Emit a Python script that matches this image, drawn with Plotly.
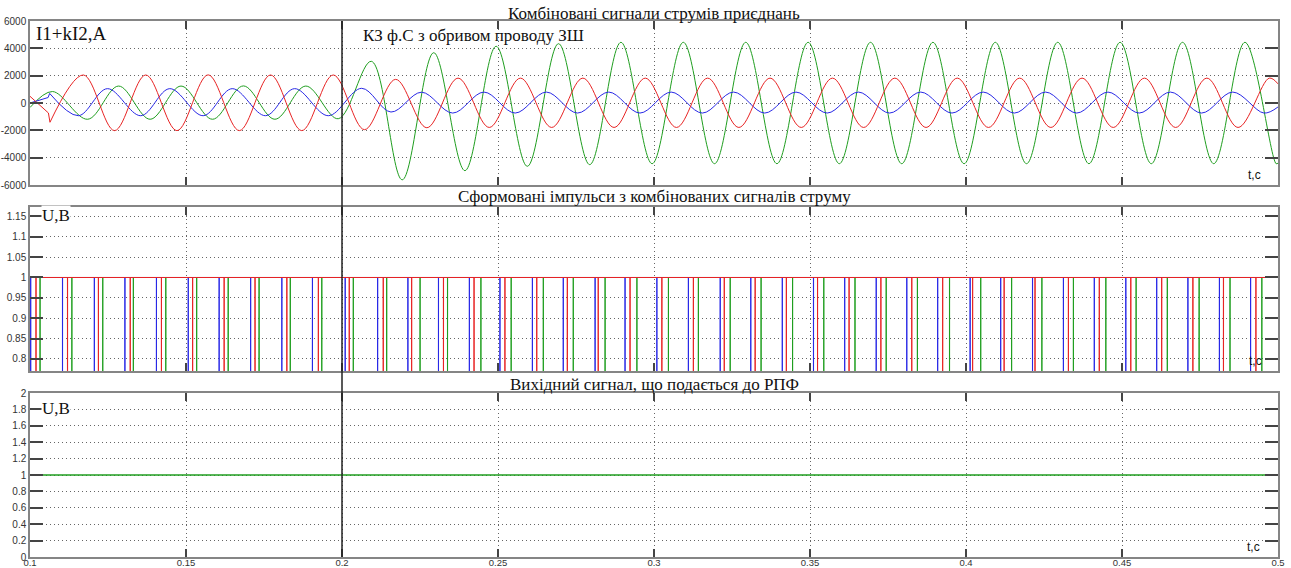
import plotly.graph_objects as go

# ---------------- data ----------------
T_START, T_END = 0.1, 0.5

# Panel 1: combined current signals (extrema of each waveform, A)
red_pre_t = [0.1000, 0.1059, 0.1064]
red_pre_v = [490, -730, -1410]
red_t = [0.1064, 0.1171, 0.1271, 0.1371, 0.1471, 0.1571, 0.1671, 0.1771, 0.1871, 0.1972,
         0.2072, 0.2172, 0.2272, 0.2372, 0.2472, 0.2572, 0.2672, 0.2772, 0.2872, 0.2972,
         0.3072, 0.3172, 0.3272, 0.3372, 0.3472, 0.3572, 0.3672, 0.3772, 0.3872, 0.3972,
         0.4072, 0.4172, 0.4272, 0.4372, 0.4472, 0.4572, 0.4672, 0.4772, 0.4872, 0.4972, 0.5000]
red_v = [-1410, 2050, -2020, 2050, -2020, 2060, -2020, 2050, -2020, 2050,
         -1950, 1730, -1810, 1820, -1790, 1820, -1790, 1820, -1790, 1820,
         -1790, 1820, -1790, 1820, -1790, 1820, -1790, 1820, -1790, 1820,
         -1790, 1820, -1790, 1820, -1790, 1820, -1790, 1820, -1790, 1820, 1400]

green_t = [0.1000, 0.1072, 0.1185, 0.1284, 0.1385, 0.1484, 0.1585, 0.1684, 0.1785, 0.1884, 0.1988,
           0.2094, 0.2193, 0.2294, 0.2394, 0.2494, 0.2594, 0.2694, 0.2794, 0.2894, 0.2994,
           0.3094, 0.3194, 0.3294, 0.3394, 0.3494, 0.3594, 0.3694, 0.3794, 0.3894, 0.3994,
           0.4094, 0.4194, 0.4294, 0.4394, 0.4494, 0.4594, 0.4694, 0.4794, 0.4894, 0.4994, 0.5000]
green_v = [-330, 840, -1190, 1240, -1190, 1240, -1190, 1250, -1190, 1240, -1150,
           3050, -5620, 3680, -4950, 4150, -4630, 4340, -4510, 4440, -4440,
           4440, -4440, 4440, -4440, 4440, -4440, 4440, -4440, 4440, -4440,
           4440, -4440, 4440, -4440, 4440, -4440, 4440, -4440, 4440, -4440, -4400]

blue_pre_t = [0.1000, 0.1058, 0.1063]
blue_pre_v = [0, 400, 700]
blue_t = [0.1063, 0.1155, 0.1248, 0.1355, 0.1448, 0.1555, 0.1648, 0.1755, 0.1848, 0.1956,
          0.2063, 0.2157, 0.2255, 0.2355, 0.2455, 0.2555, 0.2655, 0.2755, 0.2855, 0.2955,
          0.3055, 0.3155, 0.3255, 0.3355, 0.3455, 0.3555, 0.3655, 0.3755, 0.3855, 0.3955,
          0.4055, 0.4155, 0.4255, 0.4355, 0.4455, 0.4555, 0.4655, 0.4755, 0.4855, 0.4955, 0.5000]
blue_v = [700, -930, 1050, -930, 1050, -930, 1050, -930, 1050, -930,
          1075, -660, 790, -735, 800, -735, 800, -735, 800, -735,
          800, -735, 800, -735, 800, -735, 800, -735, 800, -735,
          800, -735, 800, -735, 800, -735, 800, -735, 800, -735, -290]

# Panel 2: pulse instants (s) of each phase, level 1 with short drops to 0
blue_pulses = [0.1002, 0.1104, 0.1206, 0.1304, 0.1405, 0.1507, 0.1606, 0.1707, 0.1807, 0.1905,
               0.2010, 0.2114, 0.2211, 0.2309, 0.2408, 0.2506, 0.2610, 0.2709, 0.2811, 0.2907,
               0.3009, 0.3110, 0.3212, 0.3310, 0.3411, 0.3511, 0.3611, 0.3712, 0.3810, 0.3909,
               0.4013, 0.4111, 0.4213, 0.4312, 0.4411, 0.4512, 0.4611, 0.4711, 0.4812, 0.4912]
red_pulses = [0.1019, 0.1120, 0.1219, 0.1321, 0.1421, 0.1521, 0.1622, 0.1721, 0.1823, 0.1924,
              0.2023, 0.2132, 0.2223, 0.2325, 0.2423, 0.2522, 0.2624, 0.2722, 0.2821, 0.2923,
              0.3025, 0.3126, 0.3225, 0.3324, 0.3424, 0.3524, 0.3625, 0.3727, 0.3826, 0.3925,
              0.4021, 0.4122, 0.4221, 0.4328, 0.4427, 0.4528, 0.4627, 0.4727, 0.4825, 0.4929]
green_pulses = [0.1032, 0.1134, 0.1233, 0.1331, 0.1435, 0.1534, 0.1635, 0.1734, 0.1834, 0.1935,
                0.2036, 0.2143, 0.2250, 0.2338, 0.2445, 0.2542, 0.2645, 0.2741, 0.2843, 0.2945,
                0.3046, 0.3142, 0.3244, 0.3343, 0.3444, 0.3544, 0.3644, 0.3744, 0.3844, 0.3947,
                0.4047, 0.4146, 0.4243, 0.4344, 0.4448, 0.4545, 0.4645, 0.4747, 0.4846, 0.4948]
PULSE_HIGH, PULSE_LOW = 1, 0

# Panel 3: output signal
out_t = [0.1, 0.5]
out_v = [1, 1]

fault_t = 0.2

# tick labels
x_ticks = [0.1, 0.15, 0.2, 0.25, 0.3, 0.35, 0.4, 0.45, 0.5]
x_ticktext = ["0.1", "0.15", "0.2", "0.25", "0.3", "0.35", "0.4", "0.45", "0.5"]
y1_ticks = [-6000, -4000, -2000, 0, 2000, 4000, 6000]
y1_ticktext = ["-6000", "-4000", "-2000", "0", "2000", "4000", "6000"]
y2_ticks = [0.8, 0.85, 0.9, 0.95, 1.0, 1.05, 1.1, 1.15]
y2_ticktext = ["0.8", "0.85", "0.9", "0.95", "1", "1.05", "1.1", "1.15"]
y3_ticks = [0, 0.2, 0.4, 0.6, 0.8, 1.0, 1.2, 1.4, 1.6, 1.8, 2.0]
y3_ticktext = ["0", "0.2", "0.4", "0.6", "0.8", "1", "1.2", "1.4", "1.6", "1.8", "2"]

# ---------------- figure ----------------
RED = "#e82424"
GREEN = "#1f9e1f"
BLUE = "#2828e6"
SERIF = "Liberation Serif"
SANS = "Liberation Sans"

fig = go.Figure()


def line(x, y, color, n, shape="linear", width=1.0):
    kw = dict(color=color, width=width, shape=shape)
    if shape == "spline":
        kw["smoothing"] = 1.0
    fig.add_trace(go.Scatter(x=x, y=y, mode="lines", line=kw,
                             xaxis="x" if n == 1 else f"x{n}",
                             yaxis="y" if n == 1 else f"y{n}",
                             showlegend=False, hoverinfo="skip"))


# panel 1
line(green_t, green_v, GREEN, 1, "spline")
line(blue_pre_t, blue_pre_v, BLUE, 1)
line(blue_t, blue_v, BLUE, 1, "spline")
line(red_pre_t, red_pre_v, RED, 1)
line(red_t, red_v, RED, 1, "spline")


# panel 2
def pulse_xy(pulses):
    w = 0.00005
    xs, ys = [T_START], [PULSE_HIGH]
    for t in pulses:
        xs += [t, t, t + w, t + w]
        ys += [PULSE_HIGH, PULSE_LOW, PULSE_LOW, PULSE_HIGH]
    xs.append(T_END)
    ys.append(PULSE_HIGH)
    return xs, ys


for pulses, col in [(green_pulses, GREEN), (blue_pulses, BLUE), (red_pulses, RED)]:
    px, py = pulse_xy(pulses)
    line(px, py, col, 2, width=1.0)

# panel 3
line(out_t, out_v, GREEN, 3, width=1.3)

# ---------------- layout (screen pixels; body margin removed by post_script) ----------------
W, H = 1291, 568
L, R, TOP, BOT = 30, 1278, 21, 557
ph = BOT - TOP


def dom(top_px, bot_px):
    return [(BOT - bot_px) / ph, (BOT - top_px) / ph]


GRID_DASH = "1px,3px"
common_x = dict(range=[T_START, T_END], tickvals=x_ticks, ticktext=x_ticktext,
                showgrid=True, gridcolor="#666", griddash=GRID_DASH, gridwidth=1,
                showline=True, linecolor="#858585", linewidth=1.5, mirror="ticks",
                ticks="inside", ticklen=8, tickcolor="#444", tickwidth=1.5,
                zeroline=False, fixedrange=True, automargin=False,
                tickfont=dict(family=SANS, size=10, color="#333"))
common_y = dict(showgrid=True, gridcolor="#666", griddash=GRID_DASH, gridwidth=1,
                showline=True, linecolor="#858585", linewidth=1.5, mirror="ticks",
                ticks="inside", ticklen=13, tickcolor="#444", tickwidth=1.5,
                zeroline=False, fixedrange=True, automargin=False,
                tickfont=dict(family=SANS, size=10, color="#333"))

fig.update_layout(
    width=W, height=H,
    margin=dict(l=L, r=W - R, t=TOP, b=H - BOT),
    paper_bgcolor="white", plot_bgcolor="white",
    xaxis=dict(common_x, domain=[0, 1], anchor="y", showticklabels=False),
    yaxis=dict(common_y, domain=dom(21, 185), range=[-6000, 6000],
               tickvals=y1_ticks, ticktext=y1_ticktext, anchor="x"),
    xaxis2=dict(common_x, domain=[0, 1], anchor="y2", showticklabels=False),
    yaxis2=dict(common_y, domain=dom(207, 371), range=[0.7705, 1.173],
                tickvals=y2_ticks, ticktext=y2_ticktext, anchor="x2"),
    xaxis3=dict(common_x, domain=[0, 1], anchor="y3", showticklabels=True,
                ticklabelstandoff=-4, tickfont=dict(family=SANS, size=9.5, color="#333")),
    yaxis3=dict(common_y, domain=dom(393, 557), range=[0, 2],
                tickvals=y3_ticks, ticktext=y3_ticktext, anchor="x3"),
    showlegend=False,
)

# fault cursor line across all panels
fig.add_shape(type="line", xref="x", yref="paper", x0=fault_t, x1=fault_t, y0=0, y1=1,
              line=dict(color="#222", width=1.5))


def ptxt(text, y_px, size=17):
    fig.add_annotation(text=text, xref="paper", yref="paper", x=0.5,
                       y=(BOT - y_px) / ph, showarrow=False,
                       xanchor="center", yanchor="middle",
                       font=dict(family=SERIF, size=size, color="#111"))


ptxt("Комбіновані сигнали струмів приєднань", 14)
ptxt("Сформовані імпульси з комбінованих сигналів струму", 197)
ptxt("Вихідний сигнал, що подається до РПФ", 384)


def atxt(text, x, y, n, family=SERIF, size=16, anchor="left", bg=None):
    fig.add_annotation(text=text, xref="x" if n == 1 else f"x{n}",
                       yref="y" if n == 1 else f"y{n}", x=x, y=y, showarrow=False,
                       xanchor=anchor, yanchor="middle", bgcolor=bg, borderpad=0,
                       font=dict(family=family, size=size, color="#111"))


atxt("I1+kI2,A", 0.1017, 5050, 1, size=19)
atxt("КЗ ф.С з обривом проводу ЗШ", 0.2064, 4975, 1, size=17)
atxt("U,B", 0.1035, 1.151, 2, size=17, bg="white")
atxt("U,B", 0.1035, 1.805, 3, size=17, bg="white")
atxt("t,c", 0.4926, -5270, 1, family=SANS, size=12, anchor="center")
atxt("t,c", 0.4929, 0.795, 2, family=SANS, size=12, anchor="center")
atxt("t,c", 0.4920, 0.122, 3, family=SANS, size=12, anchor="center")

fig.write_html("out.html", config={"displayModeBar": False},
               post_script="document.body.style.margin='0px';document.body.style.padding='0px';")
